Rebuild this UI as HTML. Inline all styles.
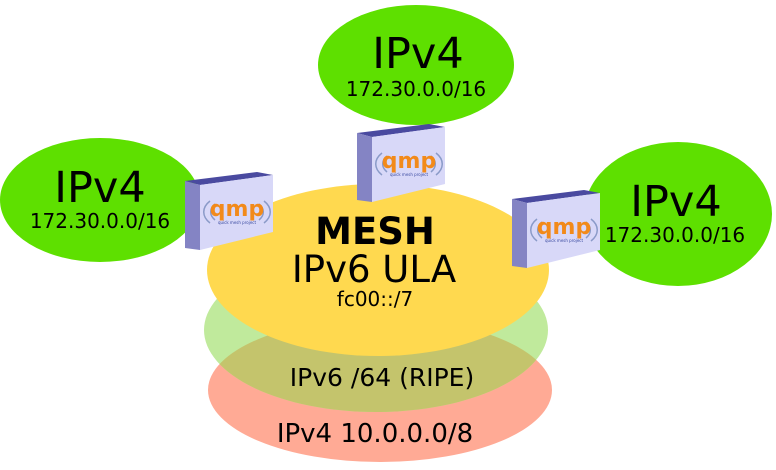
<!DOCTYPE html>
<html><head><style>body{margin:0;background:#fff}svg{display:block}text{font-family:"DejaVu Sans","Liberation Sans",sans-serif;fill:#000}</style></head><body>
<svg width="776" height="470" viewBox="0 0 776 470" xmlns="http://www.w3.org/2000/svg">
<defs>
<clipPath id="cg"><ellipse cx="376" cy="330" rx="172" ry="82"/></clipPath>
<g id="box">
<polygon points="0,9 72,0 88,3 15,13" fill="#4a4aa0"/>
<polygon points="15,13 88,3 88,60 15,78" fill="#d8d8f8"/>
<polygon points="0,9 15,13 15,78 0,76" fill="#8484c4"/>
<g transform="translate(52,40)">
<path d="M-22,-8 a24,14 0 0 0 0,16" stroke="#8a9ac8" stroke-width="1.5" fill="none"/>
<path d="M-27,-11 a30,18 0 0 0 0,22" stroke="#8a9ac8" stroke-width="1.5" fill="none"/>
<path d="M22,-8 a24,14 0 0 1 0,16" stroke="#8a9ac8" stroke-width="1.5" fill="none"/>
<path d="M27,-11 a30,18 0 0 1 0,22" stroke="#8a9ac8" stroke-width="1.5" fill="none"/>
<text x="0" y="4" text-anchor="middle" font-size="22" style="fill:#f28a1a;font-weight:bold">qmp</text>
<text x="0" y="12" text-anchor="middle" font-size="4" style="fill:#3a4aa0">quick mesh project</text>
</g>
</g>
</defs>
<ellipse cx="416" cy="65" rx="98" ry="60" fill="#5ee000"/>
<ellipse cx="100" cy="200" rx="100" ry="62" fill="#5ee000"/>
<ellipse cx="678" cy="214" rx="94" ry="72" fill="#5ee000"/>
<ellipse cx="380" cy="390" rx="172" ry="72" fill="#ffaa95"/>
<ellipse cx="376" cy="330" rx="172" ry="82" fill="#c0ea9c"/>
<ellipse cx="380" cy="390" rx="172" ry="72" fill="#c4c46c" clip-path="url(#cg)"/>
<ellipse cx="378" cy="270" rx="171" ry="86" fill="#ffd94f"/>
<text x="418" y="68" text-anchor="middle" font-size="43">IPv4</text>
<text x="416" y="96" text-anchor="middle" font-size="20">172.30.0.0/16</text>
<text x="100" y="202" text-anchor="middle" font-size="43">IPv4</text>
<text x="100" y="228" text-anchor="middle" font-size="20">172.30.0.0/16</text>
<text x="676" y="216" text-anchor="middle" font-size="43">IPv4</text>
<text x="675" y="242" text-anchor="middle" font-size="20">172.30.0.0/16</text>
<text x="375" y="244" text-anchor="middle" font-size="37" font-weight="bold">MESH</text>
<text x="374" y="282" text-anchor="middle" font-size="37">IPv6 ULA</text>
<text x="375" y="306" text-anchor="middle" font-size="20">fc00::/7</text>
<text x="382" y="386" text-anchor="middle" font-size="25">IPv6 /64 (RIPE)</text>
<text x="375" y="442" text-anchor="middle" font-size="26">IPv4 10.0.0.0/8</text>
<use href="#box" transform="translate(185,172)"/>
<use href="#box" transform="translate(357,124)"/>
<use href="#box" transform="translate(512,190)"/>
</svg>
</body></html>
